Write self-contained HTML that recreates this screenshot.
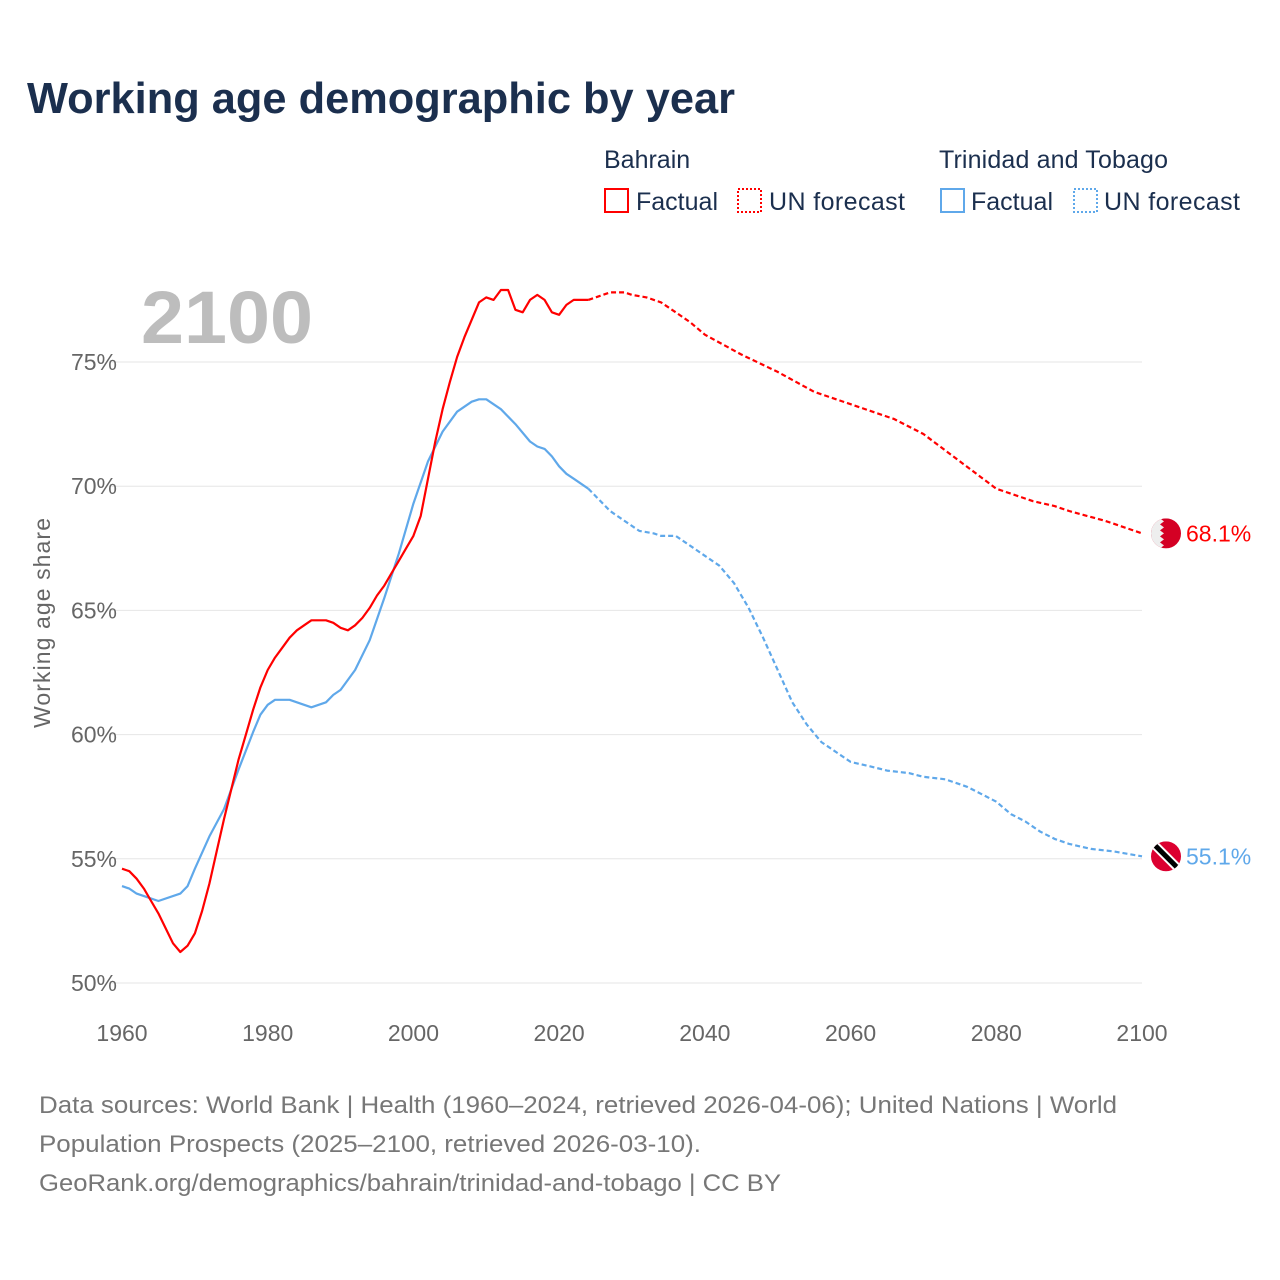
<!DOCTYPE html>
<html><head><meta charset="utf-8"><style>
body{margin:0;background:#fff;font-family:"Liberation Sans",sans-serif;}
#wrap{position:relative;width:1280px;height:1280px;overflow:hidden;}
</style></head><body>
<div id="wrap">
<svg id="chart" width="1280" height="1280" xmlns="http://www.w3.org/2000/svg">
<text x="27" y="113" font-size="44" font-weight="bold" fill="#1b2f4e" textLength="708" lengthAdjust="spacingAndGlyphs">Working age demographic by year</text>
<g font-size="25" fill="#1b2f4e">
<text x="604" y="168">Bahrain</text>
<rect x="605" y="189" width="23" height="23" fill="none" stroke="#f00" stroke-width="2"/>
<text x="636" y="210" textLength="82">Factual</text>
<rect x="738" y="189" width="23" height="23" fill="none" stroke="#f00" stroke-width="2" stroke-dasharray="2,2"/>
<text x="769" y="210" textLength="136">UN forecast</text>
<text x="939" y="168" textLength="229">Trinidad and Tobago</text>
<rect x="941" y="189" width="23" height="23" fill="none" stroke="#5fa8ea" stroke-width="2"/>
<text x="971" y="210" textLength="82">Factual</text>
<rect x="1074" y="189" width="23" height="23" fill="none" stroke="#5fa8ea" stroke-width="2" stroke-dasharray="2,2"/>
<text x="1104" y="210" textLength="136">UN forecast</text>
</g>
<text x="141" y="343" font-size="74" font-weight="bold" fill="#bdbdbd" textLength="172" lengthAdjust="spacingAndGlyphs">2100</text>
<text transform="translate(50,623) rotate(-90)" text-anchor="middle" font-size="23" fill="#666" textLength="210">Working age share</text>
<g id="grid"></g><g id="axes"></g><g id="series"></g>
<g font-size="24" fill="#777">
<text x="39" y="1113" textLength="1078" lengthAdjust="spacingAndGlyphs">Data sources: World Bank | Health (1960–2024, retrieved 2026-04-06); United Nations | World</text>
<text x="39" y="1152" textLength="662" lengthAdjust="spacingAndGlyphs">Population Prospects (2025–2100, retrieved 2026-03-10).</text>
<text x="39" y="1191" textLength="742" lengthAdjust="spacingAndGlyphs">GeoRank.org/demographics/bahrain/trinidad-and-tobago | CC BY</text>
</g>
</svg></div>
<script>
const yTicks=[50,55,60,65,70,75];
const xTicks=[1960,1980,2000,2020,2040,2060,2080,2100];
const bhYears=[1960,1961,1962,1963,1964,1965,1966,1967,1968,1969,1970,1971,1972,1973,1974,1975,1976,1977,1978,1979,1980,1981,1982,1983,1984,1985,1986,1987,1988,1989,1990,1991,1992,1993,1994,1995,1996,1997,1998,1999,2000,2001,2002,2003,2004,2005,2006,2007,2008,2009,2010,2011,2012,2013,2014,2015,2016,2017,2018,2019,2020,2021,2022,2023,2024];
const bhValues=[54.6,54.5,54.2,53.8,53.3,52.8,52.2,51.6,51.25,51.5,52.0,52.9,54.0,55.3,56.6,57.8,59.0,60.0,61.0,61.9,62.6,63.1,63.5,63.9,64.2,64.4,64.6,64.6,64.6,64.5,64.3,64.2,64.4,64.7,65.1,65.6,66.0,66.5,67.0,67.5,68.0,68.8,70.3,71.8,73.1,74.2,75.2,76.0,76.7,77.4,77.6,77.5,77.9,77.9,77.1,77.0,77.5,77.7,77.5,77.0,76.9,77.3,77.5,77.5,77.5];
const bhFYears=[2024,2025,2026,2027,2028,2029,2030,2032,2034,2036,2038,2040,2045,2050,2055,2060,2066,2070,2075,2080,2085,2088,2090,2095,2098,2100];
const bhFValues=[77.5,77.6,77.7,77.8,77.8,77.8,77.7,77.6,77.4,77.0,76.6,76.1,75.3,74.6,73.8,73.3,72.7,72.1,71.0,69.9,69.4,69.2,69.0,68.6,68.3,68.1];
const ttYears=[1960,1961,1962,1963,1965,1968,1969,1970,1972,1974,1976,1978,1979,1980,1981,1983,1985,1986,1988,1989,1990,1992,1994,1996,1998,2000,2002,2004,2006,2008,2009,2010,2012,2014,2016,2017,2018,2019,2020,2021,2022,2024];
const ttValues=[53.9,53.8,53.6,53.5,53.3,53.6,53.9,54.6,55.9,57.0,58.6,60.1,60.8,61.2,61.4,61.4,61.2,61.1,61.3,61.6,61.8,62.6,63.8,65.5,67.3,69.3,71.0,72.2,73.0,73.4,73.5,73.5,73.1,72.5,71.8,71.6,71.5,71.2,70.8,70.5,70.3,69.9];
const ttFYears=[2024,2025,2027,2029,2031,2033,2034,2036,2038,2040,2042,2044,2046,2048,2050,2052,2054,2056,2058,2060,2063,2065,2068,2070,2073,2076,2078,2080,2082,2084,2086,2088,2090,2093,2096,2098,2100];
const ttFValues=[69.9,69.6,69.0,68.6,68.2,68.1,68.0,68.0,67.6,67.2,66.8,66.1,65.1,63.9,62.6,61.3,60.4,59.7,59.3,58.9,58.7,58.55,58.45,58.3,58.2,57.9,57.6,57.3,56.8,56.5,56.1,55.8,55.6,55.4,55.3,55.2,55.1];
const NS="http://www.w3.org/2000/svg";
const X=y=>122+(y-1960)*(1020/140);
const Y=v=>983-(v-50)*(621/25);
function mk(tag,attrs,parent){const e=document.createElementNS(NS,tag);for(const k in attrs)e.setAttribute(k,attrs[k]);parent.appendChild(e);return e;}
const grid=document.getElementById('grid'),axes=document.getElementById('axes'),ser=document.getElementById('series');
yTicks.forEach(t=>{
 const l=mk('line',{x1:110,x2:1142,y1:Y(t),y2:Y(t),stroke:'#e6e6e6','stroke-width':1},grid);
 
 
 const tx=mk('text',{x:117,y:Y(t)+8,'text-anchor':'end','font-size':23,fill:'#666'},axes);
 tx.textContent=t+'%';
 
 
});
xTicks.forEach(t=>{
 const tx=mk('text',{x:X(t),y:1041,'text-anchor':'middle','font-size':23,fill:'#666'},axes);
 tx.textContent=t;
 
 
});
function line(ys,vs,color,dash,name){
 const d=ys.map((y,i)=>(i?'L':'M')+X(y).toFixed(1)+','+Y(vs[i]).toFixed(1)).join('');
 const p=mk('path',{d:d,fill:'none',stroke:color,'stroke-width':2.2,'stroke-linejoin':'round'},ser);
 if(dash)p.setAttribute('stroke-dasharray','5,3');
 
 
}
line(ttYears,ttValues,'#5fa8ea',false,'trinidad-factual-line');
line(ttFYears,ttFValues,'#5fa8ea',true,'trinidad-forecast-line');
line(bhYears,bhValues,'#f00',false,'bahrain-factual-line');
line(bhFYears,bhFValues,'#f00',true,'bahrain-forecast-line');
const bl=bhFValues[bhFValues.length-1],tl=ttFValues[ttFValues.length-1];
const cx=1166;
const defs=mk('defs',{},ser);
const c1=mk('clipPath',{id:'cb'},defs);mk('circle',{cx:cx,cy:Y(bl),r:15},c1);
const c2=mk('clipPath',{id:'ct'},defs);mk('circle',{cx:cx,cy:Y(tl),r:15},c2);
const gb=mk('g',{'clip-path':'url(#cb)'},ser);


mk('rect',{x:cx-15,y:Y(bl)-15,width:30,height:30,fill:'#d40024'},gb);
let zz='M'+(cx-15)+','+(Y(bl)-15);
for(let i=0;i<5;i++){const y0=Y(bl)-15+i*6;zz+=' L'+(cx-6)+','+y0+' L'+(cx-2)+','+(y0+3)+' L'+(cx-6)+','+(y0+6);}
zz+=' L'+(cx-15)+','+(Y(bl)+15)+'Z';
mk('path',{d:zz,fill:'#eee'},gb);
const gt=mk('g',{'clip-path':'url(#ct)'},ser);


mk('rect',{x:cx-15,y:Y(tl)-15,width:30,height:30,fill:'#dc0030'},gt);
mk('line',{x1:cx-15,y1:Y(tl)-15,x2:cx+15,y2:Y(tl)+15,stroke:'#fff','stroke-width':9},gt);
mk('line',{x1:cx-15,y1:Y(tl)-15,x2:cx+15,y2:Y(tl)+15,stroke:'#000','stroke-width':5},gt);
const lb=mk('text',{x:1186,y:Y(bl)+8,'font-size':23,fill:'#f00'},ser);
lb.textContent=bl.toFixed(1)+'%';


const lt=mk('text',{x:1186,y:Y(tl)+8,'font-size':23,fill:'#5fa8ea'},ser);
lt.textContent=tl.toFixed(1)+'%';


</script>
</body></html>
